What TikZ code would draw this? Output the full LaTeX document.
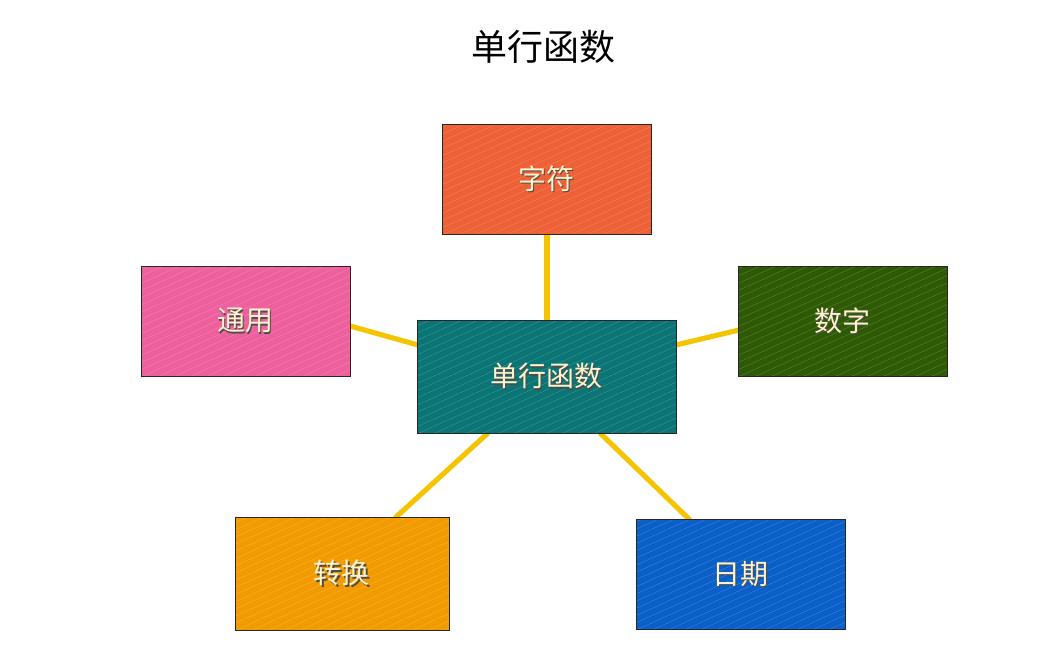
\documentclass[tikz,border=0pt]{standalone}
\usepackage{fontspec}
\setmainfont{Noto Sans CJK SC}
\usetikzlibrary{calc}
\definecolor{cz}{HTML}{EE6035}
\definecolor{ty}{HTML}{EE5F9E}
\definecolor{sz}{HTML}{2E5A05}
\definecolor{dh}{HTML}{0A7574}
\definecolor{zh}{HTML}{F29B00}
\definecolor{rq}{HTML}{0A5FC8}
\definecolor{ln}{HTML}{F5C400}
\definecolor{tx}{HTML}{FFF3CC}
\tikzset{
 x=0.75pt,y=-0.75pt,
 box/.style={draw=black!85,line width=0.6pt,fill=#1,minimum width=156pt,minimum height=82pt,inner sep=0pt,
  font=\fontsize{21}{24}\selectfont,text=tx,
  path picture={\foreach \i in {-20,...,20}{\draw[white,opacity=0.22,line width=0.3pt]
   ($(path picture bounding box.south west)+(\i*12pt,0)$) -- ++(200pt,90pt);}}},
 conn/.style={ln,line width=3.8pt}
}
\newcommand{\sh}[1]{\tikz[baseline=(t.base)]{\node[inner sep=0pt,text=black!70] at (1pt,-1pt){#1};\node[inner sep=0pt] (t) {#1};}}
\begin{document}
\begin{tikzpicture}
\useasboundingbox[fill=white] (0,0) rectangle (1063,663);
\node[font=\fontsize{27}{30}\selectfont] (title) at (543,47) {单行函数};
\coordinate (a1) at (547,234); \coordinate (b1) at (547,321);
\coordinate (a2) at (350,326); \coordinate (b2) at (418,345);
\coordinate (a3) at (739,330); \coordinate (b3) at (676,345);
\coordinate (a4) at (395,518); \coordinate (b4) at (488,433);
\coordinate (a5) at (690,520); \coordinate (b5) at (600,433);
\foreach \i in {1,...,5}{\draw[conn] (a\i) -- (b\i);}
\node[box=cz] (zf) at (547,179.5) {\sh{字符}};
\node[box=ty] (ty) at (246,321.5) {\sh{通用}};
\node[box=sz] (sz) at (843,321.5) {\sh{数字}};
\node[box=dh,minimum width=193pt,minimum height=84pt] (dh) at (547,377) {\sh{单行函数}};
\node[box=zh,minimum width=160pt,minimum height=84pt] (zh) at (342.5,574) {\sh{转换}};
\node[box=rq] (rq) at (741,574.5) {\sh{日期}};
\end{tikzpicture}
\end{document}
